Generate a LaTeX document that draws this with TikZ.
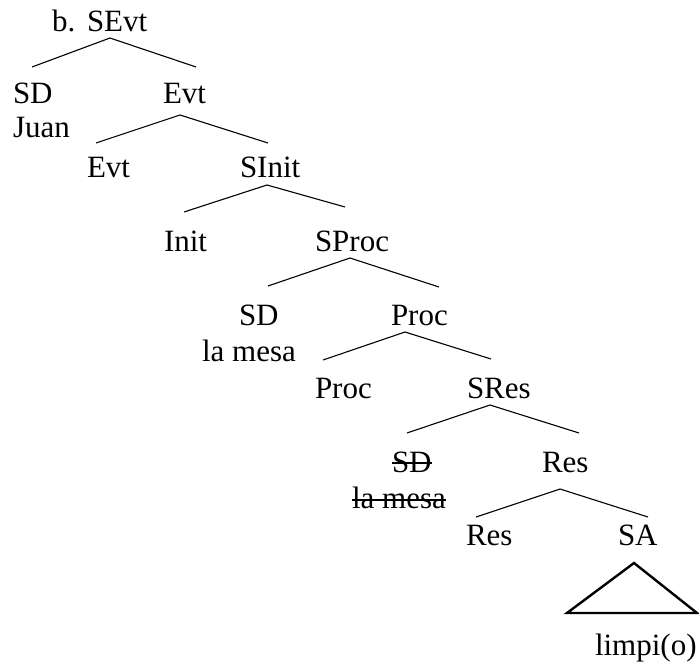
\documentclass[tikz,border=0pt]{standalone}
\usepackage{fontspec}
\setmainfont{Liberation Serif}
\begin{document}
\begin{tikzpicture}[x=1pt,y=-1pt,
  lbl/.style={anchor=base west,inner sep=0pt,outer sep=0pt,font=\fontsize{31}{37}\selectfont},
  branch/.style={line width=1.1pt},
  tri/.style={line width=2.4pt,line join=miter},
  strike/.style={line width=1.5pt}]
\useasboundingbox (0,0) rectangle (699,663);
% labels
\node[lbl] (b) at (52,32) {b.};
\node[lbl] (sevt) at (87,32) {SEvt};
\node[lbl] (sd1) at (13,104) {SD};
\node[lbl] (juan) at (13,138) {Juan};
\node[lbl] (evt1) at (163,104) {Evt};
\node[lbl] (evt2) at (87,178) {Evt};
\node[lbl] (sinit) at (240,178) {SInit};
\node[lbl] (init) at (164,252) {Init};
\node[lbl] (sproc) at (315,252) {SProc};
\node[lbl] (sd2) at (239,325) {SD};
\node[lbl] (lamesa) at (202,361) {la mesa};
\node[lbl] (proc1) at (391,325) {Proc};
\node[lbl] (proc2) at (315,398) {Proc};
\node[lbl] (sres) at (467,398) {SRes};
\node[lbl] (sds) at (392,472) {SD};
\node[lbl] (lamesas) at (352,508) {la mesa};
\node[lbl] (res1) at (542,472) {Res};
\node[lbl] (res2) at (466,545) {Res};
\node[lbl] (sa) at (618,545) {SA};
\node[lbl] (limpio) at (595,655) {limpi(o)};
% branch points
\coordinate (a0) at (110,38);  \coordinate (a0l) at (32,67);   \coordinate (a0r) at (196,67);
\coordinate (a1) at (180,115); \coordinate (a1l) at (96,143);  \coordinate (a1r) at (268,143);
\coordinate (a2) at (267,185); \coordinate (a2l) at (184,212); \coordinate (a2r) at (345,207);
\coordinate (a3) at (350,258); \coordinate (a3l) at (268,286); \coordinate (a3r) at (439,287);
\coordinate (a4) at (405,332); \coordinate (a4l) at (323,360); \coordinate (a4r) at (491,359);
\coordinate (a5) at (490,405); \coordinate (a5l) at (407,433); \coordinate (a5r) at (579,433);
\coordinate (a6) at (560,489); \coordinate (a6l) at (476,517); \coordinate (a6r) at (648,517);
\coordinate (t0) at (634,563); \coordinate (tl) at (567,613); \coordinate (tr) at (697,613);
\foreach \i in {0,...,6} {\draw[branch] (a\i l) -- (a\i) -- (a\i r);}
\draw[tri] (t0) -- (tl) -- (tr) -- cycle;
% strike-through
\draw[strike] ([yshift=9pt]sds.base west) -- ([yshift=9pt]sds.base east);
\draw[strike] ([yshift=8pt]lamesas.base west) -- ([yshift=8pt]lamesas.base east);
\end{tikzpicture}
\end{document}
